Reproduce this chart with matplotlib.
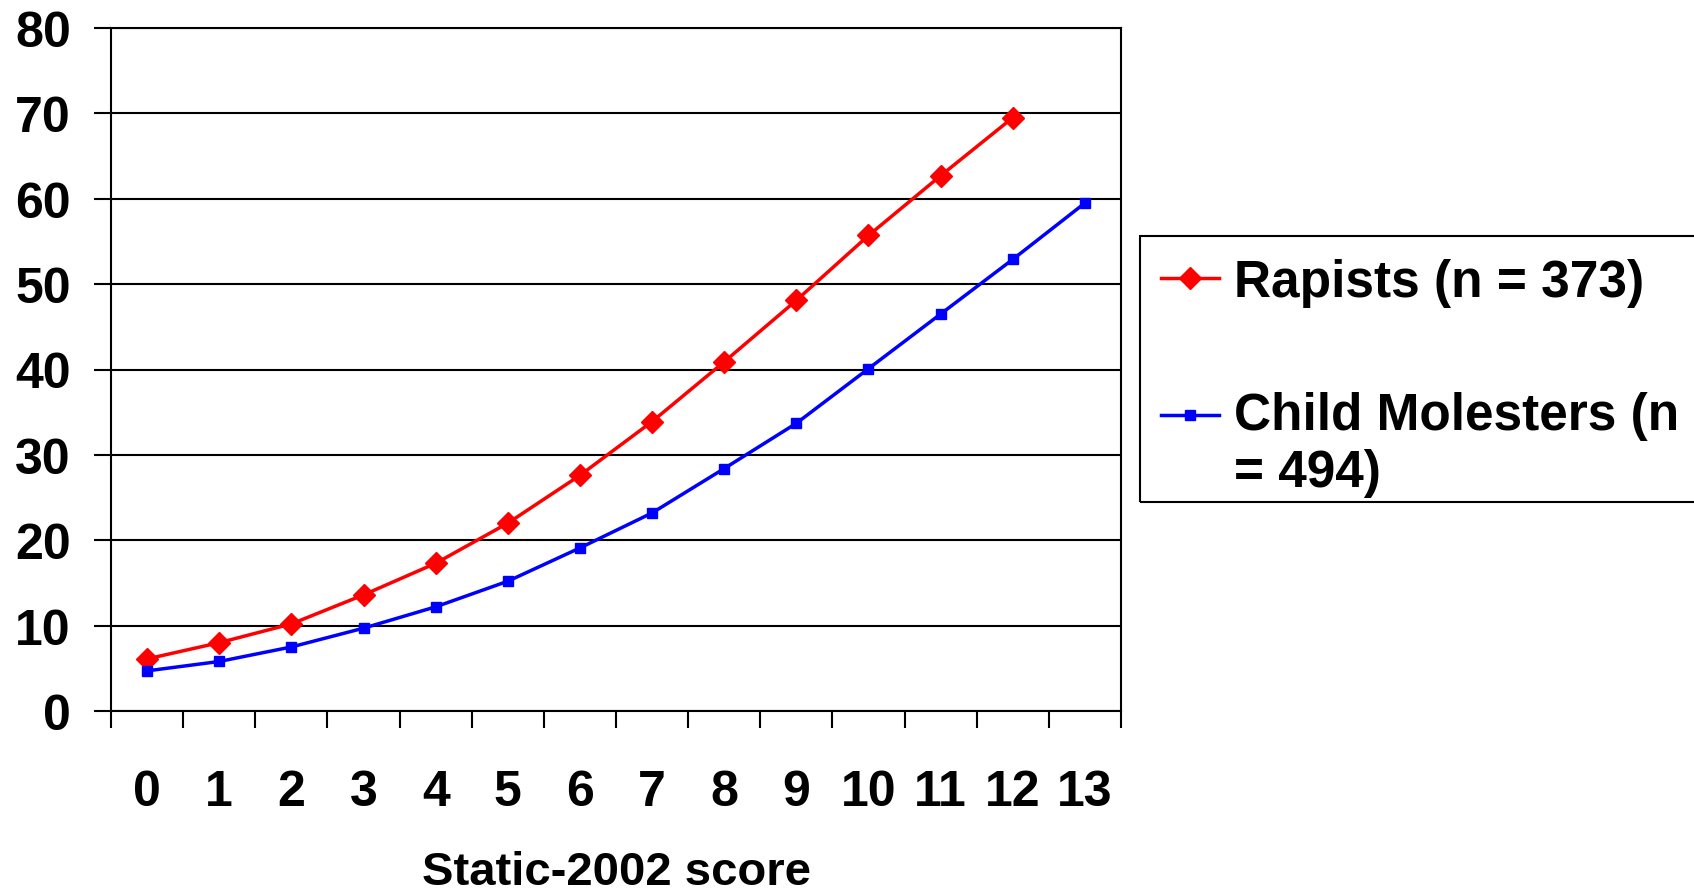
import numpy as np
import matplotlib.pyplot as plt
from matplotlib.patches import Rectangle

scores = list(range(14))
rapists = [6.1, 8.0, 10.2, 13.6, 17.3, 22.0, 27.6, 33.9, 40.9, 48.1, 55.7, 62.7, 69.5]
molesters = [4.7, 5.8, 7.5, 9.7, 12.2, 15.2, 19.1, 23.2, 28.4, 33.7, 40.1, 46.5, 52.9, 59.5]
y_ticks = [0, 10, 20, 30, 40, 50, 60, 70, 80]

plt.rcParams['font.family'] = ['Liberation Sans', 'DejaVu Sans']
plt.rcParams['font.weight'] = 'bold'

fig = plt.figure(figsize=(16.94, 8.95), dpi=100)
ax = fig.add_axes([111/1694, 1 - 712/895, (1121 - 111)/1694, (712 - 29)/895])

ax.plot(scores[:len(rapists)], rapists, color='#ff0000', lw=2.5, marker='D', ms=11,
        label='Rapists (n = 373)', zorder=3)
ax.plot(scores, molesters, color='#0000ff', lw=2.5, marker='s', ms=7.5,
        label='Child Molesters (n\n= 494)', zorder=3)

ax.set_xlim(-0.5, 13.5)
ax.set_ylim(0, 80)
ax.set_yticks(y_ticks)
ax.set_xticks(scores)
ax.set_xticks(np.arange(-0.5, 14, 1), minor=True)
ax.tick_params(axis='x', which='major', length=0, pad=42, labelsize=36)
ax.tick_params(axis='x', which='minor', length=12, width=1.5, direction='out')
ax.tick_params(axis='y', which='major', length=12, width=1.5, labelsize=36, pad=17)
for lbl in ax.get_xticklabels() + ax.get_yticklabels():
    lbl.set_fontweight('bold')

ax.yaxis.grid(True, color='black', lw=1.5)
ax.set_axisbelow(True)
for s in ax.spines.values():
    s.set_color('black')
    s.set_linewidth(1.5)

ax.set_xlabel('Static-2002 score', fontsize=34, fontweight='bold', labelpad=25)

leg = fig.legend(loc='upper left', bbox_to_anchor=(1140/1694, 1 - 238/895),
                 fontsize=37, frameon=False,
                 handlelength=1.13, handletextpad=0.3, borderpad=0.4,
                 labelspacing=1.65, borderaxespad=0)
for t in leg.get_texts():
    t.set_fontweight('bold')

# legend box runs off the right edge like in the original
fig.patches.append(Rectangle((1140/1694, 1 - 503/895), 0.5, (503 - 237)/895,
                             transform=fig.transFigure, fill=False,
                             edgecolor='black', lw=1.5))

# move the second handle up to the first line of its two-line label
item = leg._legend_handle_box.get_children()[0].get_children()[1]
handle_area = item.get_children()[0]
for a in handle_area.get_children():
    a.set_ydata(np.asarray(a.get_ydata(), dtype=float) + 22)

fig.savefig('out.png', dpi=100)
